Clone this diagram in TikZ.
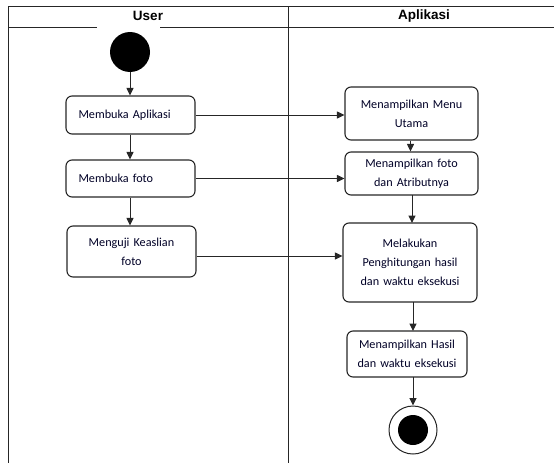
\documentclass[tikz,border=0pt]{standalone}
\usepackage{fontspec}
\setmainfont{Carlito}
\newfontfamily\headfont{Liberation Sans}
\usetikzlibrary{arrows.meta}
\tikzset{
  lane/.style={draw=black!85, line width=0.9pt},
  act/.style={draw=black!85, line width=1.1pt, rounded corners=6pt, inner sep=0pt,
    font=\fontsize{12.2}{19}\selectfont, text=black!85!blue, align=center},
  flow/.style={draw=black!85, line width=1pt, -{Triangle[length=7.5pt,width=7pt]}},
  head/.style={font=\headfont\bfseries\fontsize{13.5}{14}\selectfont}
}
\begin{document}
\begin{tikzpicture}[x=1pt,y=-1pt]
  \useasboundingbox (0,0) rectangle (554,463);
  % swimlane frame
  \draw[lane] (8,463) -- (8,6) -- (554,6);
  \draw[lane] (288,6) -- (288,463);
  \draw[lane] (8,27) -- (97,27);
  \draw[lane] (160,27) -- (554,27);
  \node[head] (hu) at (148,16) {User};
  \node[head] (ha) at (424,16) {Aplikasi};

  % start
  \node[circle, fill=black, minimum size=40pt, inner sep=0pt] (start) at (130,52) {};

  % user lane activities
  \node[act, minimum width=129pt, minimum height=38pt, text width=104pt, align=left] (a1) at (130.5,115) {Membuka Aplikasi};
  \node[act, minimum width=129pt, minimum height=37pt, text width=104pt, align=left] (a2) at (130.5,178.5) {Membuka foto};
  \node[act, minimum width=129pt, minimum height=51pt, text width=120pt] (a3) at (131.5,251.5) {Menguji Keaslian\\foto};

  % application lane activities
  \node[act, minimum width=133pt, minimum height=53pt, text width=125pt] (b1) at (411.5,113.5) {Menampilkan Menu\\Utama};
  \node[act, minimum width=133pt, minimum height=43pt, text width=125pt] (b2) at (411.5,173.5) {Menampilkan foto\\dan Atributnya};
  \node[act, minimum width=134pt, minimum height=79pt, text width=125pt] (b3) at (410,262.5) {Melakukan\\Penghitungan hasil\\dan waktu eksekusi};
  \node[act, minimum width=120pt, minimum height=46pt, text width=115pt] (b4) at (407,354) {Menampilkan Hasil\\dan waktu eksekusi};

  % end
  \node[circle, draw=black!85, line width=1pt, fill=white, minimum size=48pt, inner sep=0pt] (end) at (413,430) {};
  \node[circle, fill=black, minimum size=30pt, inner sep=0pt] (endin) at (end) {};

  % control flow
  \draw[flow] (start.south) -- (a1.north -| start.south);
  \draw[flow] (a1.south -| start.south) -- (a2.north -| start.south);
  \draw[flow] (a2.south -| start.south) -- (a3.north -| start.south);

  \draw[flow] (a1.east) -- (a1.east -| b1.west);
  \draw[flow] (a2.east) -- (a2.east -| b2.west);
  \draw[flow] (a3.east |- 0,256) -- (b3.west |- 0,256);

  \draw[flow] ([xshift=-1pt]b1.south) -- ([xshift=-1pt]b2.north);
  \draw[flow] (412,195) -- (412,223);
  \draw[flow] (413,302) -- (413,331);
  \draw[flow] (413,377) -- (end.north);
\end{tikzpicture}
\end{document}
